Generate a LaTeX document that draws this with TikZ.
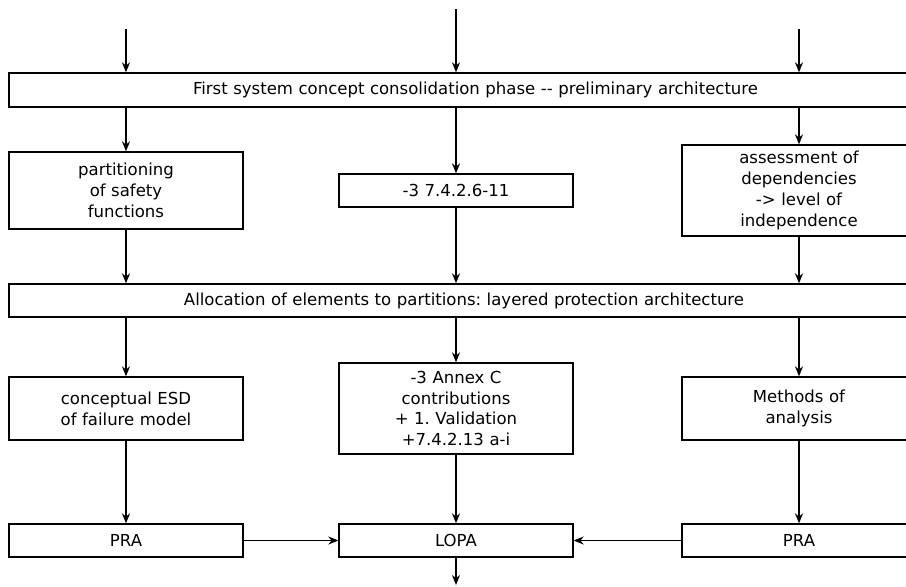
\documentclass[tikz,border=0pt]{standalone}
\usepackage{fontspec}
\setmainfont{DejaVu Sans}
\usetikzlibrary{arrows.meta}
\frenchspacing
\tikzset{
  box/.style={draw=black, line width=1pt, rectangle, inner sep=0pt, align=center,
    minimum width=175.5pt, text width=172pt, font=\fontsize{12.4pt}{15.6pt}\selectfont},
  arr/.style={draw=black, line width=1pt, -{Stealth[length=7.5pt, width=6pt, inset=2.4pt]}}
}
\begin{document}
\begin{tikzpicture}[x=0.75pt, y=-0.75pt]
\useasboundingbox (0,0) rectangle (906,586);
\fill[white] (0,0) rectangle (906,586);
\clip (0,0) rectangle (906,586);
% nodes
\node[box, minimum width=699.75pt, text width=690pt, minimum height=25.5pt] (top) at (475.5,90) {First system concept consolidation phase {-}{-} preliminary architecture};
\node[box, minimum height=57.75pt] (l2) at (126,190.5) {partitioning\\of safety\\functions};
\node[box, minimum height=24.75pt] (m2) at (456,190.5) {-3 7.4.2.6-11};
\node[box, minimum height=68.25pt] (r2) at (799,190.5) {assessment of\\dependencies\\-> level of\\independence};
\node[box, minimum width=682.5pt, text width=675pt, minimum height=24.75pt] (alloc) at (464,300.5) {Allocation of elements to partitions: layered protection architecture};
\node[box, minimum height=47.25pt] (l4) at (126,408.5) {conceptual ESD\\of failure model};
\node[box, minimum height=68.25pt] (m4) at (456,408.5) {-3 Annex C\\contributions\\+ 1. Validation\\+7.4.2.13 a-i};
\node[box, minimum height=47.25pt] (r4) at (799,408.5) {Methods of\\analysis};
\node[box, minimum height=24.75pt] (l5) at (126,540.5) {PRA};
\node[box, minimum height=24.75pt] (m5) at (456,540.5) {LOPA};
\node[box, minimum height=24.75pt] (r5) at (799,540.5) {PRA};
% free ends
\coordinate (inL) at (126,29);
\coordinate (inM) at (456,9);
\coordinate (inR) at (799,29);
\coordinate (out) at (456,585);
% connectors
\draw[arr] (inL) -- (inL |- top.north);
\draw[arr] (inM) -- (inM |- top.north);
\draw[arr] (inR) -- (inR |- top.north);
\draw[arr] (top.south -| l2.north) -- (l2.north);
\draw[arr] (top.south -| m2.north) -- (m2.north);
\draw[arr] (top.south -| r2.north) -- (r2.north);
\draw[arr] (l2.south) -- (alloc.north -| l2.south);
\draw[arr] (m2.south) -- (alloc.north -| m2.south);
\draw[arr] (r2.south) -- (alloc.north -| r2.south);
\draw[arr] (alloc.south -| l4.north) -- (l4.north);
\draw[arr] (alloc.south -| m4.north) -- (m4.north);
\draw[arr] (alloc.south -| r4.north) -- (r4.north);
\draw[arr] (l4.south) -- (l5.north);
\draw[arr] (m4.south) -- (m5.north);
\draw[arr] (r4.south) -- (r5.north);
\draw[arr] (l5.east) -- (m5.west);
\draw[arr] (r5.west) -- (m5.east);
\draw[arr] (m5.south) -- (out);
\end{tikzpicture}
\end{document}
